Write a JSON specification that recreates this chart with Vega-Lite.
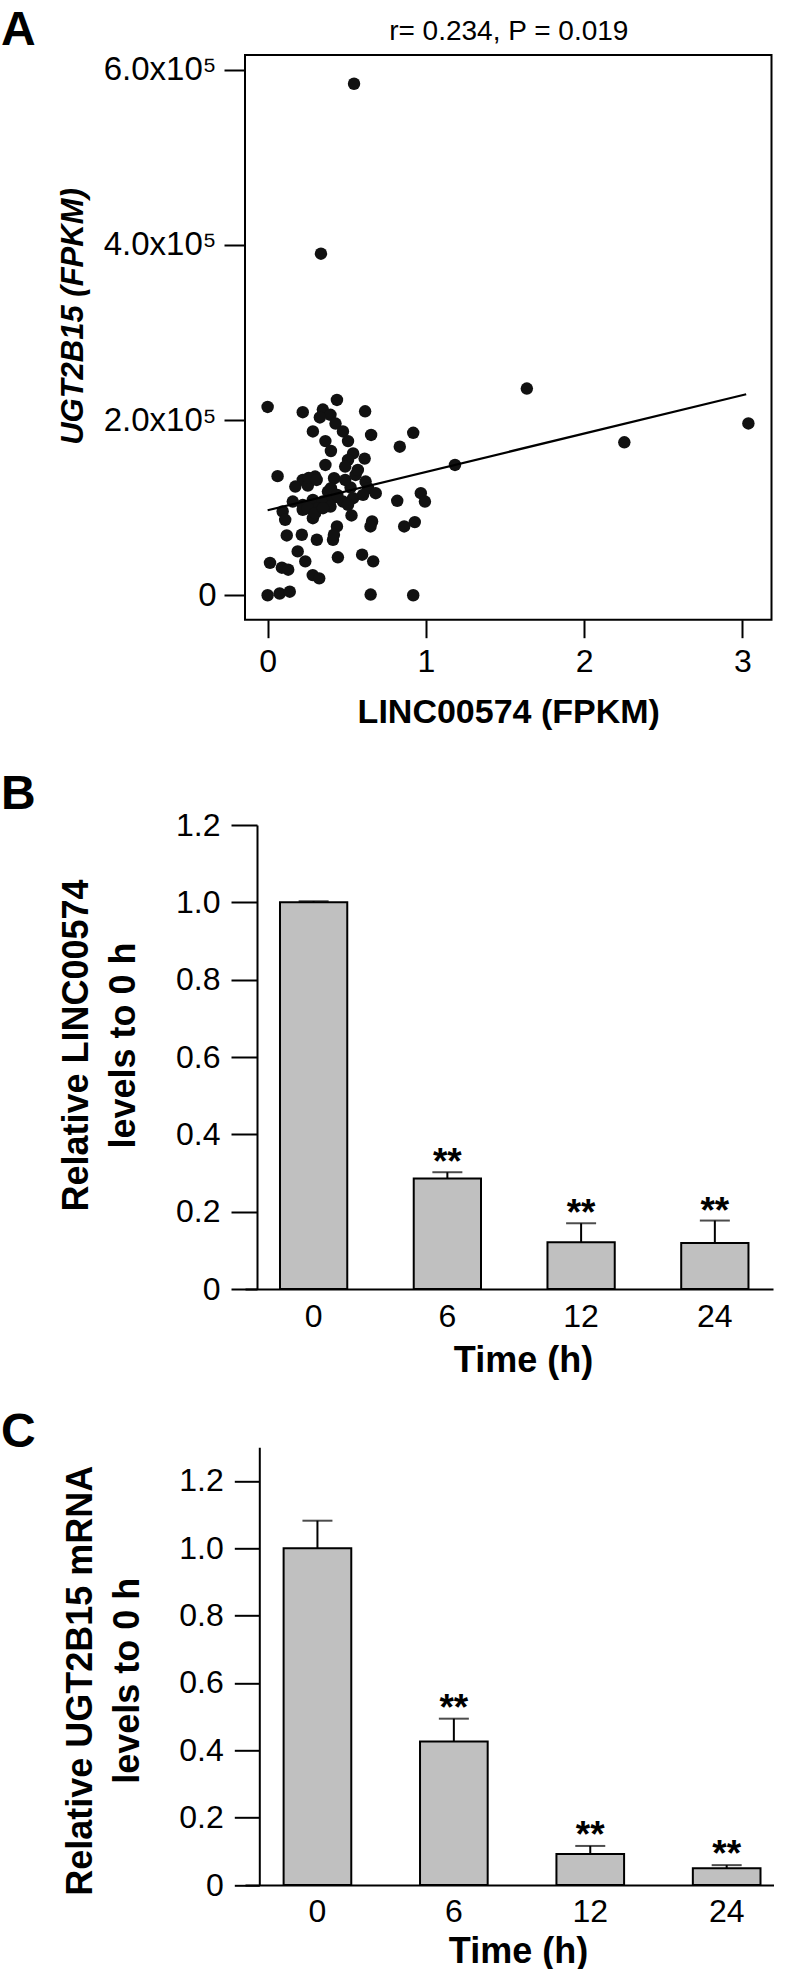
{
  "$schema": "https://vega.github.io/schema/vega-lite/v6.json",
  "padding": {"left": 0, "top": 5, "right": 0, "bottom": 0},
  "autosize": {"type": "pad"},
  "background": "white",
  "config": {
    "font": "Liberation Sans",
    "view": {"stroke": null},
    "axis": {
      "grid": false,
      "domainColor": "black",
      "tickColor": "black",
      "labelColor": "black",
      "titleColor": "black",
      "domainWidth": 2,
      "tickWidth": 2,
      "labelFont": "Liberation Sans",
      "titleFont": "Liberation Sans",
      "labelFontSize": 32,
      "titleFontSize": 36,
      "titleFontWeight": "bold"
    },
    "title": {
      "font": "Liberation Sans",
      "fontSize": 48,
      "fontWeight": "bold",
      "anchor": "start",
      "frame": "group",
      "dx": -244,
      "offset": 0,
      "baseline": "alphabetic",
      "color": "black"
    }
  },
  "datasets": {
    "pts": [
      {"x": 0.546, "y": 584000}, {"x": 0.337, "y": 390000}, {"x": 1.638, "y": 236000},
      {"x": 0.0, "y": 215000}, {"x": 0.222, "y": 209000}, {"x": 0.349, "y": 212000},
      {"x": 0.397, "y": 206000}, {"x": 0.438, "y": 223000}, {"x": 0.616, "y": 210000},
      {"x": 0.33, "y": 203000}, {"x": 0.286, "y": 187000}, {"x": 0.429, "y": 196000},
      {"x": 0.476, "y": 187000}, {"x": 0.654, "y": 183000}, {"x": 0.92, "y": 185500},
      {"x": 0.365, "y": 176000}, {"x": 0.508, "y": 176000}, {"x": 0.835, "y": 169600},
      {"x": 0.4, "y": 164700}, {"x": 0.54, "y": 162000}, {"x": 0.613, "y": 156000},
      {"x": 0.508, "y": 154500}, {"x": 1.184, "y": 148800}, {"x": 0.365, "y": 148800},
      {"x": 0.49, "y": 146900}, {"x": 0.063, "y": 136000}, {"x": 0.3, "y": 135500},
      {"x": 0.222, "y": 131700}, {"x": 0.42, "y": 133600}, {"x": 0.175, "y": 124100},
      {"x": 0.254, "y": 125200}, {"x": 0.619, "y": 129800}, {"x": 0.635, "y": 122200},
      {"x": 0.524, "y": 123000}, {"x": 0.683, "y": 116500}, {"x": 0.381, "y": 118400},
      {"x": 0.968, "y": 116500}, {"x": 0.159, "y": 107000}, {"x": 0.222, "y": 103200},
      {"x": 0.286, "y": 108900}, {"x": 0.349, "y": 107000}, {"x": 0.413, "y": 110800},
      {"x": 0.476, "y": 107000}, {"x": 0.54, "y": 110800}, {"x": 0.603, "y": 114600},
      {"x": 0.819, "y": 107800}, {"x": 0.994, "y": 107000}, {"x": 0.095, "y": 95600},
      {"x": 0.222, "y": 97500}, {"x": 0.317, "y": 99400}, {"x": 0.397, "y": 101300},
      {"x": 0.508, "y": 103200}, {"x": 0.53, "y": 91100}, {"x": 0.111, "y": 86100},
      {"x": 0.286, "y": 88000}, {"x": 0.438, "y": 78600}, {"x": 0.66, "y": 84200},
      {"x": 0.65, "y": 78600}, {"x": 0.863, "y": 78600}, {"x": 0.93, "y": 83500},
      {"x": 0.121, "y": 68300}, {"x": 0.216, "y": 69100}, {"x": 0.311, "y": 63400},
      {"x": 0.413, "y": 63400}, {"x": 0.419, "y": 69100}, {"x": 0.19, "y": 50100},
      {"x": 0.238, "y": 38700}, {"x": 0.444, "y": 43300}, {"x": 0.597, "y": 46300},
      {"x": 0.667, "y": 38700}, {"x": 0.015, "y": 37000}, {"x": 0.09, "y": 31500},
      {"x": 0.13, "y": 29200}, {"x": 0.285, "y": 23000}, {"x": 0.326, "y": 19300},
      {"x": 0.0, "y": 0}, {"x": 0.076, "y": 2000}, {"x": 0.14, "y": 4100},
      {"x": 0.651, "y": 800}, {"x": 0.92, "y": 0}, {"x": 2.254, "y": 174600},
      {"x": 3.038, "y": 196200},
      {"x": 0.26, "y": 134000}, {"x": 0.31, "y": 131700}, {"x": 0.4, "y": 122200},
      {"x": 0.44, "y": 114600}, {"x": 0.254, "y": 99400}, {"x": 0.3, "y": 93700},
      {"x": 0.35, "y": 99400}, {"x": 0.49, "y": 131700}, {"x": 0.556, "y": 137400},
      {"x": 0.57, "y": 143100}
    ],
    "fit": [{"x": 0, "y": 97000}, {"x": 3.024, "y": 229500}],
    "barB": [
      {"t": "0", "mean": 1.0, "upper": 1.003, "sig": ""},
      {"t": "6", "mean": 0.286, "upper": 0.302, "sig": "**"},
      {"t": "12", "mean": 0.121, "upper": 0.17, "sig": "**"},
      {"t": "24", "mean": 0.119, "upper": 0.177, "sig": "**"}
    ],
    "barC": [
      {"t": "0", "mean": 1.0, "upper": 1.082, "sig": ""},
      {"t": "6", "mean": 0.426, "upper": 0.494, "sig": "**"},
      {"t": "12", "mean": 0.092, "upper": 0.116, "sig": "**"},
      {"t": "24", "mean": 0.05, "upper": 0.059, "sig": "**"}
    ]
  },
  "bounds": "flush",
  "spacing": 205,
  "vconcat": [
    {
      "width": 526.5,
      "height": 564.7,
      "view": {"stroke": "black", "strokeWidth": 2},
      "title": {"text": "A", "dy": 41.5},
      "encoding": {
        "y": {
          "field": "y", "type": "quantitative",
          "scale": {"domain": [-27900, 616800], "nice": false, "zero": false},
          "axis": {
            "values": [0, 200000, 400000, 600000], "domain": false,
            "tickSize": 21, "labelPadding": 8, "labelFlush": false, "labelFontSize": 33,
            "labelExpr": "datum.value == 0 ? '0' : format(datum.value / 100000, '.1f') + 'x10⁵'",
            "title": "UGT2B15 (FPKM)", "titleFontSize": 31, "titleFontStyle": "italic",
            "titlePadding": 14, "titleY": 261
          }
        }
      },
      "layer": [
        {
          "data": {"name": "pts"},
          "mark": {"type": "circle", "size": 155, "color": "#111111", "opacity": 1},
          "encoding": {
            "x": {
              "field": "x", "type": "quantitative",
              "scale": {"domain": [-0.143, 3.184], "nice": false, "zero": false},
              "axis": {
                "orient": "bottom", "values": [0, 1, 2, 3], "domain": false,
                "tickSize": 18, "labelPadding": 9, "labelFlush": false,
                "title": "LINC00574 (FPKM)", "titleFontSize": 34, "titlePadding": 18
              }
            }
          }
        },
        {
          "data": {"name": "fit"},
          "mark": {"type": "line", "color": "black", "strokeWidth": 2.2},
          "encoding": {
            "x": {
              "field": "x", "type": "quantitative",
              "axis": {
                "orient": "top", "labels": false, "ticks": false, "domain": false,
                "title": "r= 0.234, P = 0.019", "titleFontSize": 28,
                "titleFontWeight": "normal", "titlePadding": 10
              }
            }
          }
        }
      ]
    },
    {
      "bounds": "flush",
      "spacing": 158.3,
      "vconcat": [
        {
          "width": 528,
          "height": 464,
          "title": {"text": "B", "dy": 14},
          "data": {"name": "barB"},
          "encoding": {
            "x": {
              "field": "t", "type": "ordinal", "sort": null,
              "scale": {"paddingInner": 0.497, "paddingOuter": 0.2225, "align": 0.588},
              "axis": {
                "labelAngle": 0, "ticks": false, "labelPadding": 12,
                "title": "Time (h)", "titlePadding": 11, "titleX": 278
              }
            }
          },
          "layer": [
            {
              "mark": {"type": "bar", "fill": "#c0c0c0", "stroke": "black", "strokeWidth": 2},
              "encoding": {
                "y": {
                  "field": "mean", "type": "quantitative",
                  "scale": {"domain": [0, 1.2], "nice": false},
                  "axis": {
                    "values": [0, 0.2, 0.4, 0.6, 0.8, 1.0, 1.2],
                    "offset": -12, "tickSize": 26, "labelPadding": 11, "labelFlush": false,
                    "labelExpr": "datum.value == 0 ? '0' : format(datum.value, '.1f')",
                    "title": ["Relative LINC00574", "levels to 0 h"],
                    "titleLineHeight": 47, "titlePadding": 33, "titleY": 220
                  }
                }
              }
            },
            {
              "mark": {"type": "rule", "color": "black", "strokeWidth": 2},
              "encoding": {
                "y": {"field": "mean", "type": "quantitative"},
                "y2": {"field": "upper"}
              }
            },
            {
              "mark": {"type": "tick", "color": "black", "thickness": 2, "size": 30, "orient": "horizontal"},
              "encoding": {"y": {"field": "upper", "type": "quantitative"}}
            },
            {
              "mark": {"type": "text", "font": "Liberation Sans", "fontSize": 37, "fontWeight": "bold", "baseline": "alphabetic", "dy": 2, "color": "black"},
              "encoding": {
                "y": {"field": "upper", "type": "quantitative"},
                "text": {"field": "sig"}
              }
            }
          ]
        },
        {
          "width": 529,
          "height": 437.7,
          "title": {"text": "C", "dy": 13.5},
          "data": {"name": "barC"},
          "encoding": {
            "x": {
              "field": "t", "type": "ordinal", "sort": null,
              "scale": {"paddingInner": 0.504, "paddingOuter": 0.191, "align": 0.741},
              "axis": {
                "labelAngle": 0, "ticks": false, "labelPadding": 11,
                "title": "Time (h)", "titlePadding": 7, "titleX": 273
              }
            }
          },
          "layer": [
            {
              "mark": {"type": "bar", "fill": "#c0c0c0", "stroke": "black", "strokeWidth": 2},
              "encoding": {
                "y": {
                  "field": "mean", "type": "quantitative",
                  "scale": {"domain": [0, 1.3], "nice": false},
                  "axis": {
                    "values": [0, 0.2, 0.4, 0.6, 0.8, 1.0, 1.2],
                    "offset": -14.3, "tickSize": 25, "labelPadding": 11, "labelFlush": false,
                    "labelExpr": "datum.value == 0 ? '0' : format(datum.value, '.1f')",
                    "title": ["Relative UGT2B15 mRNA", "levels to 0 h"],
                    "titleLineHeight": 47, "titlePadding": 32, "titleY": 233
                  }
                }
              }
            },
            {
              "mark": {"type": "rule", "color": "black", "strokeWidth": 2},
              "encoding": {
                "y": {"field": "mean", "type": "quantitative"},
                "y2": {"field": "upper"}
              }
            },
            {
              "mark": {"type": "tick", "color": "black", "thickness": 2, "size": 30, "orient": "horizontal"},
              "encoding": {"y": {"field": "upper", "type": "quantitative"}}
            },
            {
              "mark": {"type": "text", "font": "Liberation Sans", "fontSize": 37, "fontWeight": "bold", "baseline": "alphabetic", "dy": 1, "color": "black"},
              "encoding": {
                "y": {"field": "upper", "type": "quantitative"},
                "text": {"field": "sig"}
              }
            }
          ]
        }
      ]
    }
  ]
}
